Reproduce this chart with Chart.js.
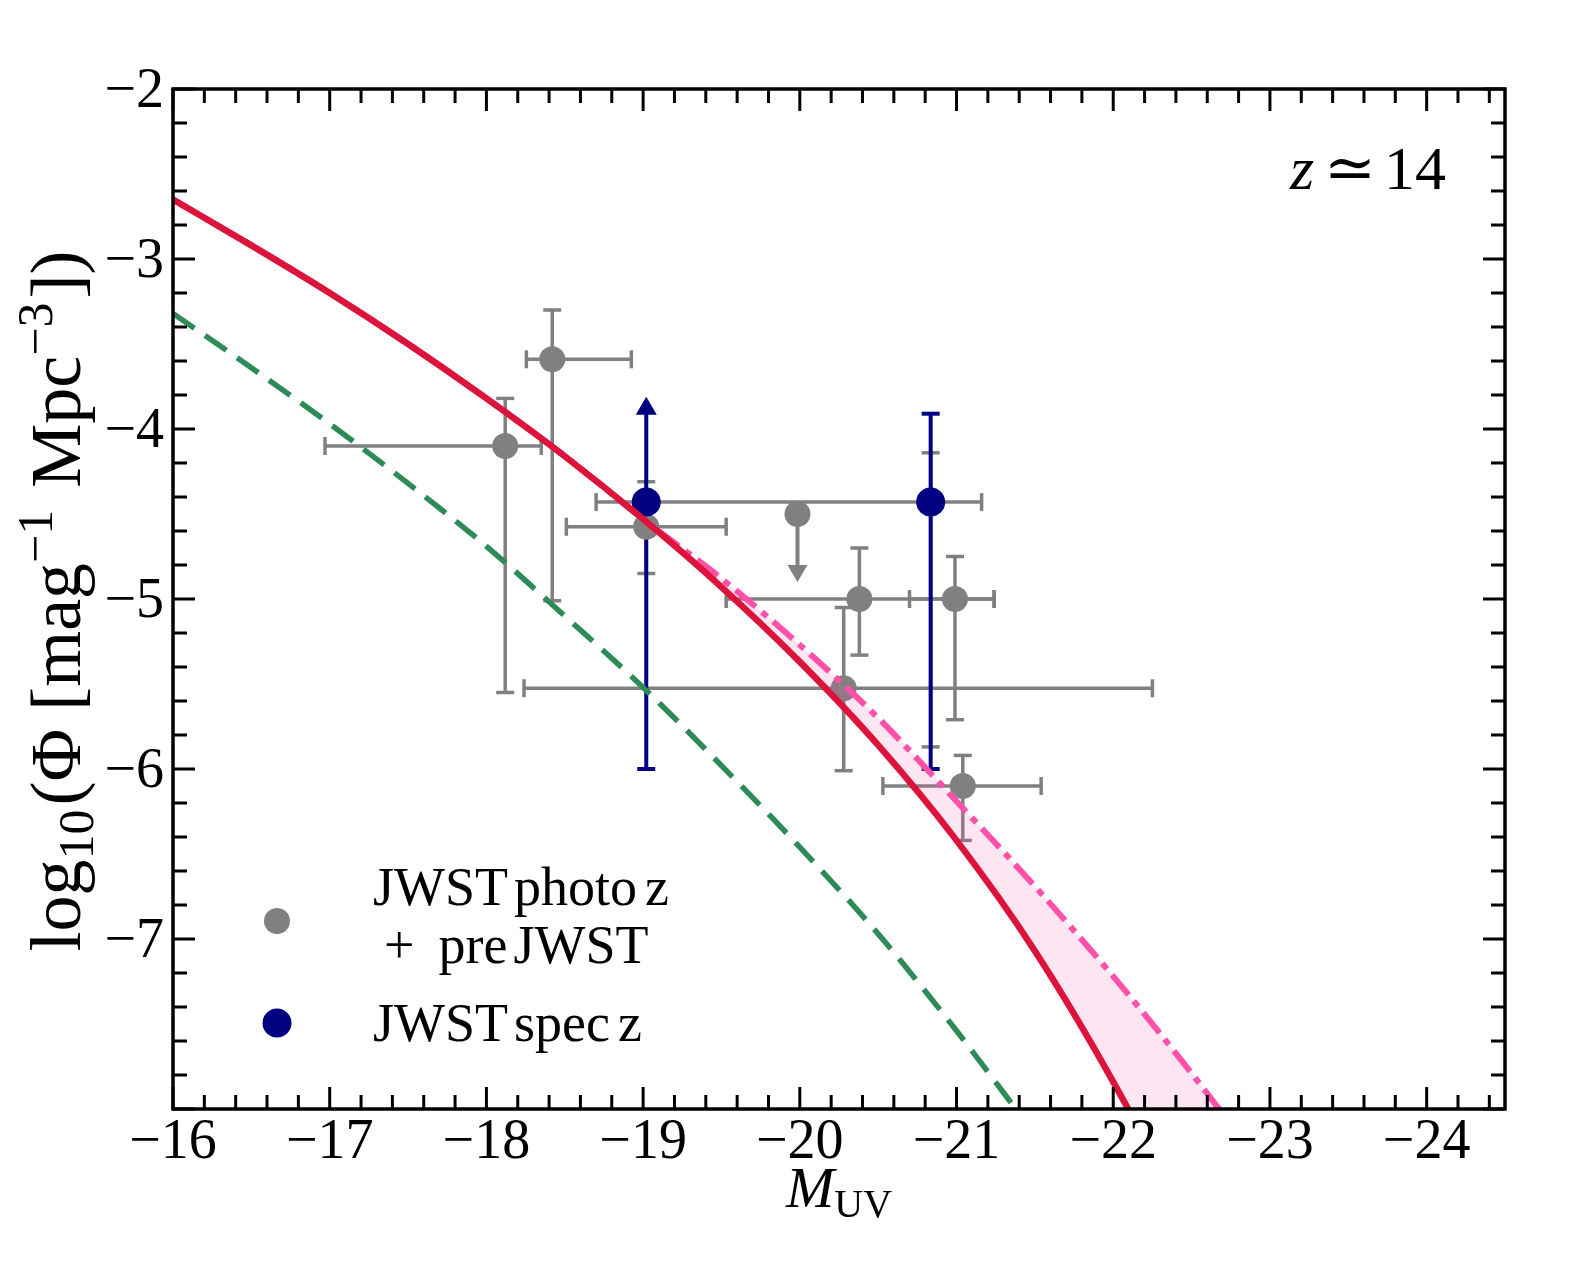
<!DOCTYPE html>
<html>
<head>
  <meta charset="utf-8">
  <title>UV luminosity function at z ~ 14</title>
  <style>
    html, body { margin: 0; padding: 0; background: #fff; overflow: hidden; }
    #wrap { width: 1578px; height: 1262px; }
    canvas { display: block; }
  </style>
  <script src="https://cdn.jsdelivr.net/npm/chart.js"></script>
</head>
<body>
  <div id="wrap"><canvas id="lf-chart" width="1578" height="1262"></canvas></div>
  <script>
    // axis ticks and labels
    const xMajorTicks = [-16, -17, -18, -19, -20, -21, -22, -23, -24];
    const xTickLabels = ['−16', '−17', '−18', '−19', '−20', '−21', '−22', '−23', '−24'];
    const yMajorTicks = [-2, -3, -4, -5, -6, -7, -8];
    const yTickLabels = ['−2', '−3', '−4', '−5', '−6', '−7', ''];

    // model curves (log10 Phi vs M_UV)
    const curveM  = [-16, -16.5, -17, -17.5, -18, -18.5, -19, -19.5, -20, -20.5, -21, -21.5, -22, -22.5, -23];
    const redPhi  = [-2.65, -2.92, -3.20, -3.50, -3.82, -4.16, -4.53, -4.93, -5.37, -5.86, -6.42, -7.07, -7.84, -8.72, -9.70];
    const pinkPhi = [-2.65, -2.92, -3.20, -3.50, -3.82, -4.16, -4.53, -4.88, -5.27, -5.70, -6.19, -6.69, -7.22, -7.79, -8.40];
    const greenM   = [-16, -16.5, -17, -17.5, -18, -18.5, -19, -19.5, -20, -20.5, -21, -21.5];
    const greenPhi = [-3.32, -3.64, -3.97, -4.32, -4.69, -5.10, -5.52, -5.98, -6.46, -6.97, -7.54, -8.15];

    // JWST photo-z + pre-JWST (grey)
    const grayM       = [-18.12, -18.42, -19.02, -20.835, -20.38, -20.99, -20.28, -21.04];
    const grayPhi     = [-4.10, -3.59, -4.575, -4.43, -5.00, -5.00, -5.525, -6.10];
    const grayMFaint  = [-16.97, -18.255, -18.51, -18.70, -19.53, -20.70, -18.24, -20.53];
    const grayMBright = [-18.35, -18.925, -19.53, -21.16, -21.24, -21.24, -22.25, -21.54];
    const grayPhiHi   = [-3.82, -3.30, -4.31, -4.14, -4.70, -4.75, -5.05, -5.92];
    const grayPhiLo   = [-5.55, -5.01, -4.85, -5.87, -5.33, -5.71, -6.01, -6.42];
    // grey upper limit
    const limitM   = [-19.985];
    const limitPhi = [-4.50];
    const limitTip = [-4.90];

    // JWST spec-z (navy)
    const blueM      = [-19.02, -20.835];
    const bluePhi    = [-4.43, -4.43];
    const bluePhiHi  = [-3.81, -3.91];
    const bluePhiLo  = [-6.00, -6.00];
    const blueLowLim = [true, false];

    const GRAY = '#808080', NAVY = '#000080', RED = '#dc143c', PINK = '#ff50aa', GREEN = '#2e8b57';
    const SERIF = '"Liberation Serif", "DejaVu Serif", serif';

    function line(ctx, x1, y1, x2, y2) {
      ctx.beginPath(); ctx.moveTo(x1, y1); ctx.lineTo(x2, y2); ctx.stroke();
    }

    function triangle(ctx, px, tipY, dir, w, h) {
      // dir = -1 points up, +1 points down
      ctx.beginPath();
      ctx.moveTo(px, tipY);
      ctx.lineTo(px - w / 2, tipY - dir * h);
      ctx.lineTo(px + w / 2, tipY - dir * h);
      ctx.closePath();
      ctx.fill();
    }

    // draw a row of text pieces with different fonts / offsets
    function drawRuns(ctx, runs, x, y, center) {
      let total = 0;
      runs.forEach(r => { ctx.font = r.font; r.w = ctx.measureText(r.text).width + (r.gap || 0); total += r.w; });
      let cx = center ? x - total / 2 : x;
      runs.forEach(r => {
        ctx.font = r.font;
        ctx.fillText(r.text, cx, y + (r.dy || 0));
        cx += r.w;
      });
    }

    const errorBars = {
      id: 'errorBars',
      beforeDatasetsDraw(chart) {
        const {ctx, scales: {x, y}} = chart;
        ctx.save();
        ctx.lineCap = 'butt';
        const cap = 9;
        // grey bars
        ctx.strokeStyle = GRAY; ctx.fillStyle = GRAY; ctx.lineWidth = 3.5;
        for (let i = 0; i < grayM.length; i++) {
          const px = x.getPixelForValue(grayM[i]), py = y.getPixelForValue(grayPhi[i]);
          const x1 = x.getPixelForValue(grayMFaint[i]), x2 = x.getPixelForValue(grayMBright[i]);
          const y1 = y.getPixelForValue(grayPhiHi[i]), y2 = y.getPixelForValue(grayPhiLo[i]);
          line(ctx, x1, py, x2, py);
          line(ctx, x1, py - cap, x1, py + cap);
          line(ctx, x2, py - cap, x2, py + cap);
          line(ctx, px, y1, px, y2);
          line(ctx, px - cap, y1, px + cap, y1);
          line(ctx, px - cap, y2, px + cap, y2);
        }
        ctx.lineWidth = 4;
        for (let i = 0; i < limitM.length; i++) {
          const px = x.getPixelForValue(limitM[i]), py = y.getPixelForValue(limitPhi[i]);
          const tip = y.getPixelForValue(limitTip[i]);
          line(ctx, px, py, px, tip - 14);
          triangle(ctx, px, tip, 1, 20, 17);
        }
        // navy bars
        ctx.strokeStyle = NAVY; ctx.fillStyle = NAVY; ctx.lineWidth = 4;
        for (let i = 0; i < blueM.length; i++) {
          const px = x.getPixelForValue(blueM[i]);
          const y1 = y.getPixelForValue(bluePhiHi[i]), y2 = y.getPixelForValue(bluePhiLo[i]);
          line(ctx, px - cap, y2, px + cap, y2);
          if (blueLowLim[i]) {
            line(ctx, px, y2, px, y1 + 14);
            triangle(ctx, px, y1, -1, 21, 18);
          } else {
            line(ctx, px, y2, px, y1);
            line(ctx, px - cap, y1, px + cap, y1);
          }
        }
        ctx.restore();
      }
    };

    const frame = {
      id: 'frame',
      afterDraw(chart) {
        const {ctx, chartArea: a, scales: {x, y}} = chart;
        ctx.save();
        ctx.strokeStyle = '#000';
        ctx.lineCap = 'butt';
        // minor ticks
        ctx.lineWidth = 3;
        for (let k = 0; k <= 42; k++) {
          if (k % 5 === 0) continue;
          const px = x.getPixelForValue(-16 - 0.2 * k);
          line(ctx, px, a.bottom, px, a.bottom - 14);
          line(ctx, px, a.top, px, a.top + 14);
        }
        for (let k = 0; k <= 30; k++) {
          if (k % 5 === 0) continue;
          const py = y.getPixelForValue(-2 - 0.2 * k);
          line(ctx, a.left, py, a.left + 14, py);
          line(ctx, a.right, py, a.right - 14, py);
        }
        // major ticks
        xMajorTicks.forEach(v => {
          const px = x.getPixelForValue(v);
          line(ctx, px, a.bottom, px, a.bottom - 22);
          line(ctx, px, a.top, px, a.top + 22);
        });
        yMajorTicks.forEach(v => {
          const py = y.getPixelForValue(v);
          line(ctx, a.left, py, a.left + 22, py);
          line(ctx, a.right, py, a.right - 22, py);
        });
        // frame
        ctx.lineWidth = 3.5;
        ctx.strokeRect(a.left, a.top, a.right - a.left, a.bottom - a.top);

        // tick labels
        ctx.fillStyle = '#000';
        ctx.font = '56px ' + SERIF;
        ctx.textAlign = 'center';
        ctx.textBaseline = 'alphabetic';
        xMajorTicks.forEach((v, i) => {
          ctx.fillText(xTickLabels[i], x.getPixelForValue(v), a.bottom + 49);
        });
        ctx.textAlign = 'right';
        yMajorTicks.forEach((v, i) => {
          ctx.fillText(yTickLabels[i], a.left - 9, y.getPixelForValue(v) + 18);
        });

        // axis titles
        ctx.textAlign = 'left';
        const big = '58px ' + SERIF, small = '40px ' + SERIF;
        drawRuns(ctx, [
          {text: 'M', font: 'italic ' + big},
          {text: 'UV', font: small, dy: 10}
        ], (a.left + a.right) / 2, a.bottom + 98, true);

        ctx.save();
        ctx.translate(80, (a.top + a.bottom) / 2 + 2);
        ctx.rotate(-Math.PI / 2);
        const yt = '72px ' + SERIF, ys = '50px ' + SERIF;
        drawRuns(ctx, [
          {text: 'log', font: yt},
          {text: '10', font: ys, dy: 13, gap: 4},
          {text: '(Φ [mag', font: yt},
          {text: '−1', font: ys, dy: -28, gap: 4},
          {text: ' Mpc', font: yt},
          {text: '−3', font: ys, dy: -28, gap: 4},
          {text: '])', font: yt}
        ], 0, 0, true);
        ctx.restore();

        // redshift annotation
        drawRuns(ctx, [
          {text: 'z', font: 'italic 62px ' + SERIF, gap: 10},
          {text: '≃', font: '62px ' + SERIF, gap: 8},
          {text: '14', font: '62px ' + SERIF}
        ], 1290, 189, false);

        // legend
        ctx.fillStyle = GRAY;
        ctx.beginPath(); ctx.arc(277, 921, 13, 0, 2 * Math.PI); ctx.fill();
        ctx.fillStyle = NAVY;
        ctx.beginPath(); ctx.arc(277, 1023, 14.5, 0, 2 * Math.PI); ctx.fill();
        ctx.fillStyle = '#000';
        ctx.font = '54px ' + SERIF;
        drawRuns(ctx, [{text: 'JWST', font: ctx.font, gap: 6}, {text: 'photo', font: ctx.font, gap: 8}, {text: 'z', font: ctx.font}], 373, 905, false);
        drawRuns(ctx, [{text: '+', font: ctx.font, gap: 24}, {text: 'pre', font: ctx.font, gap: 6}, {text: 'JWST', font: ctx.font}], 384, 963, false);
        drawRuns(ctx, [{text: 'JWST', font: ctx.font, gap: 6}, {text: 'spec', font: ctx.font, gap: 8}, {text: 'z', font: ctx.font}], 373, 1041, false);
        ctx.restore();
      }
    };

    const pts = (xs, ys) => xs.map((v, i) => ({x: v, y: ys[i]}));

    new Chart(document.getElementById('lf-chart'), {
      type: 'scatter',
      data: {
        datasets: [
          { label: 'JWST photo z + pre JWST', data: pts(grayM, grayPhi), backgroundColor: GRAY,
            pointRadius: 13, borderWidth: 0, order: 6 },
          { label: 'upper limit', data: pts(limitM, limitPhi), backgroundColor: GRAY,
            pointRadius: 13, borderWidth: 0, order: 5 },
          { label: 'JWST spec z', data: pts(blueM, bluePhi), backgroundColor: NAVY,
            pointRadius: 14.5, borderWidth: 0, order: 4 },
          { label: 'model', data: pts(curveM, redPhi), showLine: true, pointRadius: 0,
            borderColor: RED, borderWidth: 6.5, cubicInterpolationMode: 'monotone', order: 1 },
          { label: 'model upper', data: pts(curveM, pinkPhi), showLine: true, pointRadius: 0,
            borderColor: PINK, borderWidth: 6, borderDash: [26, 8, 7, 8], cubicInterpolationMode: 'monotone',
            fill: 3, backgroundColor: 'rgba(250, 80, 165, 0.15)', order: 2 },
          { label: 'dashed model', data: pts(greenM, greenPhi), showLine: true, pointRadius: 0,
            borderColor: GREEN, borderWidth: 5.5, borderDash: [26, 13], cubicInterpolationMode: 'monotone', order: 0 }
        ]
      },
      options: {
        responsive: false,
        devicePixelRatio: 1,
        animation: false,
        layout: { autoPadding: false, padding: { left: 173, top: 89, right: 73, bottom: 153 } },
        plugins: { legend: { display: false }, tooltip: { enabled: false } },
        scales: {
          x: { type: 'linear', min: -24.5, max: -16, reverse: true, display: false },
          y: { type: 'linear', min: -8, max: -2, display: false }
        }
      },
      plugins: [errorBars, frame]
    });
  </script>
</body>
</html>
